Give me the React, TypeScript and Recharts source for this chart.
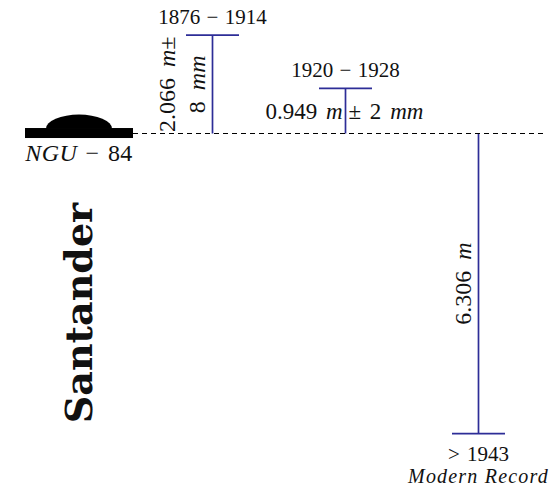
// Santander levelling diagram: height differences to benchmark NGU-84

import React from 'react';
import { ComposedChart, Bar, XAxis, YAxis, ReferenceLine, ReferenceDot } from 'recharts';

const stations = ['NGU − 84', '1876 − 1914', '1920 − 1928', '> 1943'];
const heightDiff: (number | null)[] = [null, 2.066, 0.949, -6.306];
const diffLabels = [[], ['2.066 m±', '8 mm'], ['0.949 m', '± 2 mm'], ['6.306 m']];
const stationNotes = ['', '', '', 'Modern Record'];
const title = 'Santander';

const data = stations.map((name, i) => ({
  name,
  diff: heightDiff[i],
  labels: diffLabels[i],
  note: stationNotes[i],
}));

const BLUE = '#2d2d97';
const INK = '#111';
const FONT = 'Liberation Serif, Times New Roman, serif';
const CAP_HALF = 26.5;
const BENCH_HALF = 54;

// letters in italic (math mode), digits and symbols upright
function MathText({ text, ...rest }: any) {
  const parts = text.split(/([A-Za-z]+)/).filter(Boolean);
  return (
    <text fill={INK} style={{ fontFamily: FONT }} {...rest}>
      {parts.map((p: string, i: number) => (
        <tspan key={i} fontStyle={/[A-Za-z]/.test(p) ? 'italic' : 'normal'}>
          {p}
        </tspan>
      ))}
    </text>
  );
}

function StationBar(props: any) {
  const { x, y, width, height, payload } = props;
  if (payload.diff == null) return <g />;
  const cx = x + width / 2;
  const top = Math.min(y, y + height);
  const bottom = Math.max(y, y + height);
  const up = payload.diff >= 0;
  const capY = up ? top : bottom;
  const midY = (top + bottom) / 2;
  const labels: string[] = payload.labels;

  return (
    <g>
      <line x1={cx} y1={top} x2={cx} y2={bottom} stroke={BLUE} strokeWidth={1.7} />
      <line x1={cx - CAP_HALF} y1={capY} x2={cx + CAP_HALF} y2={capY} stroke={BLUE} strokeWidth={1.7} />
      {up ? (
        <MathText text={payload.name} x={cx} y={capY - 11} textAnchor="middle" fontSize={21} wordSpacing={1} />
      ) : (
        <>
          <MathText text={payload.name} x={cx} y={capY + 27} textAnchor="middle" fontSize={21} wordSpacing={2} />
          <MathText
            text={payload.note}
            x={cx}
            y={capY + 49}
            textAnchor="middle"
            fontSize={20}
            letterSpacing={1.2}
          />
        </>
      )}
      {bottom - top < 60
        ? labels.map((t, j) => (
            <MathText
              key={j}
              text={t}
              x={j === 0 ? cx - 3 : cx + 3}
              y={midY}
              textAnchor={j === 0 ? 'end' : 'start'}
              dominantBaseline="central"
              fontSize={23}
              wordSpacing={3}
            />
          ))
        : labels.map((t, j) => {
            const lx = cx - 15 - (labels.length - 1 - j) * 30;
            return (
              <MathText
                key={j}
                text={t}
                x={lx}
                y={midY}
                transform={`rotate(-90 ${lx} ${midY})`}
                textAnchor="middle"
                dominantBaseline="central"
                fontSize={24}
                wordSpacing={5}
              />
            );
          })}
    </g>
  );
}

function Benchmark(props: any) {
  const { cx, cy } = props;
  return (
    <g>
      <rect x={cx - BENCH_HALF} y={cy - 5.5} width={BENCH_HALF * 2} height={10} fill="#000" />
      <path d={`M${cx - 33},${cy - 5} A 32 13.5 0 0 1 ${cx + 33},${cy - 5} Z`} fill="#000" />
      <MathText
        text={stations[0]}
        x={cx}
        y={cy + 27}
        textAnchor="middle"
        fontSize={24}
        letterSpacing={0.4}
        wordSpacing={2}
      />
    </g>
  );
}

function Datum(props: any) {
  const { x1, y1, x2 } = props;
  const halfBand = (x2 - x1) / stations.length / 2;
  return (
    <line
      x1={x1 + halfBand + BENCH_HALF}
      y1={y1}
      x2={x2}
      y2={y1}
      stroke="#000"
      strokeWidth={1.2}
      strokeDasharray="5 4"
    />
  );
}

export default function App() {
  return (
    <div style={{ position: 'absolute', left: 0, top: 0, background: '#fff' }}>
      <ComposedChart
        width={557}
        height={488}
        data={data}
        margin={{ top: 0, right: 12.5, bottom: 0, left: 12.5 }}
      >
        <XAxis dataKey="name" type="category" hide />
        <YAxis type="number" domain={[-7.447, 2.805]} allowDataOverflow hide />
        <ReferenceLine y={0} shape={Datum} />
        <ReferenceDot x={stations[0]} y={0} shape={Benchmark} />
        <Bar dataKey="diff" barSize={10} shape={StationBar} isAnimationActive={false} />
        <text
          x={92}
          y={313}
          transform="rotate(-90 92 313)"
          textAnchor="middle"
          style={{ fontFamily: 'DejaVu Serif, serif' }}
          fontWeight="bold"
          fontSize={38}
          fill={INK}
        >
          {title}
        </text>
      </ComposedChart>
    </div>
  );
}
